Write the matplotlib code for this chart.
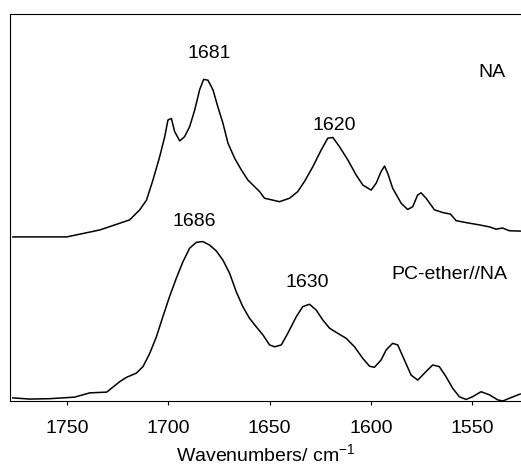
import matplotlib
matplotlib.use("Agg")
from matplotlib import pyplot as plt

plt.rcParams['font.family'] = ['Liberation Sans', 'DejaVu Sans']
plt.rcParams['mathtext.fontset'] = 'custom'
plt.rcParams['mathtext.rm'] = 'Liberation Sans'

# NA spectrum (wavenumber, absorbance a.u.)
na_wn = [1776.6, 1763.3, 1750.0, 1733.7, 1719.0, 1714.0, 1710.7, 1707.5, 1704.2,
         1701.7, 1700.1, 1698.4, 1696.8, 1694.3, 1691.9, 1689.4, 1686.9, 1684.5,
         1682.5, 1680.4, 1677.9, 1675.5, 1673.0, 1670.5, 1667.2, 1663.9, 1660.7,
         1657.4, 1654.9, 1652.5, 1650.0, 1645.1, 1640.1, 1636.1, 1632.8, 1628.7,
         1624.5, 1621.3, 1618.8, 1615.5, 1611.4, 1607.3, 1604.0, 1599.9, 1597.4,
         1595.0, 1593.3, 1591.7, 1589.3, 1585.1, 1581.9, 1579.4, 1577.0, 1575.3,
         1572.8, 1568.7, 1564.6, 1560.8, 1558.0, 1553.1, 1546.5, 1541.6, 1538.3,
         1535.1, 1531.8, 1526.4]
na_abs = [0.424, 0.424, 0.424, 0.442, 0.468, 0.494, 0.519, 0.571, 0.631,
          0.683, 0.726, 0.730, 0.696, 0.672, 0.683, 0.709, 0.752, 0.804,
          0.831, 0.829, 0.804, 0.760, 0.718, 0.666, 0.627, 0.597, 0.571,
          0.554, 0.541, 0.524, 0.521, 0.515, 0.524, 0.541, 0.567, 0.605,
          0.649, 0.679, 0.681, 0.657, 0.623, 0.584, 0.558, 0.545, 0.563,
          0.593, 0.607, 0.588, 0.550, 0.511, 0.495, 0.502, 0.532, 0.538,
          0.524, 0.494, 0.487, 0.483, 0.466, 0.461, 0.455, 0.450, 0.444,
          0.447, 0.440, 0.439]

# PC-ether//NA spectrum
pc_wn = [1776.6, 1768.2, 1758.4, 1746.1, 1738.7, 1730.3, 1723.9, 1720.6, 1715.7,
         1712.4, 1709.1, 1705.8, 1702.6, 1699.3, 1696.0, 1692.7, 1689.4, 1686.1,
         1682.9, 1679.6, 1676.3, 1673.0, 1669.7, 1666.4, 1663.2, 1659.9, 1656.6,
         1653.3, 1650.0, 1647.5, 1644.2, 1641.0, 1636.8, 1633.6, 1630.3, 1627.0,
         1623.7, 1620.4, 1616.4, 1612.2, 1608.1, 1604.0, 1600.7, 1598.3, 1595.0,
         1592.5, 1589.3, 1586.8, 1583.5, 1580.2, 1576.9, 1573.6, 1569.6, 1566.3,
         1563.0, 1559.7, 1556.4, 1553.1, 1549.9, 1545.7, 1541.6, 1537.5, 1535.0,
         1531.8, 1526.4]
pc_abs = [0.008, 0.005, 0.006, 0.010, 0.021, 0.023, 0.050, 0.061, 0.072,
          0.089, 0.123, 0.166, 0.218, 0.270, 0.317, 0.360, 0.395, 0.410,
          0.412, 0.403, 0.388, 0.364, 0.330, 0.282, 0.244, 0.214, 0.192,
          0.171, 0.145, 0.140, 0.145, 0.175, 0.218, 0.244, 0.250, 0.235,
          0.209, 0.188, 0.175, 0.162, 0.140, 0.110, 0.090, 0.087, 0.106,
          0.132, 0.149, 0.145, 0.106, 0.067, 0.054, 0.072, 0.093, 0.089,
          0.063, 0.033, 0.011, 0.004, 0.011, 0.024, 0.016, 0.003, 0.000,
          0.007, 0.018]

# peak labels: (text, wavenumber, height)
labels = [("1681", 1679.6, 0.899), ("NA", 1540.2, 0.850), ("1620", 1618, 0.713),
          ("1686", 1687, 0.463), ("1630", 1631.3, 0.305),
          ("PC-ether//NA", 1561.3, 0.326)]

fig = plt.figure(figsize=(5.21, 4.71), dpi=100)
ax = fig.add_axes([0.0192, 0.1486, 0.9808, 0.8217])

ax.plot(na_wn, na_abs, c="k", linewidth=1.1, solid_joinstyle="round")
ax.plot(pc_wn, pc_abs, c="k", linewidth=1.1, solid_joinstyle="round")

for txt, x, y in labels:
    ax.text(x, y, txt, ha="center", va="center", fontsize=14)

ax.set_xlim(1778, 1526)
ax.set_ylim(0, 1)
ax.set_xticks([1750, 1700, 1650, 1600, 1550])
ax.set_yticks([])
ax.tick_params(axis="x", direction="out", length=3, labelsize=14, pad=11)
ax.spines['right'].set_visible(False)
ax.set_xlabel("Wavenumbers/ cm$^{\\mathrm{-1}}$", fontsize=14, labelpad=4)

fig.savefig("out.png", dpi=100)
